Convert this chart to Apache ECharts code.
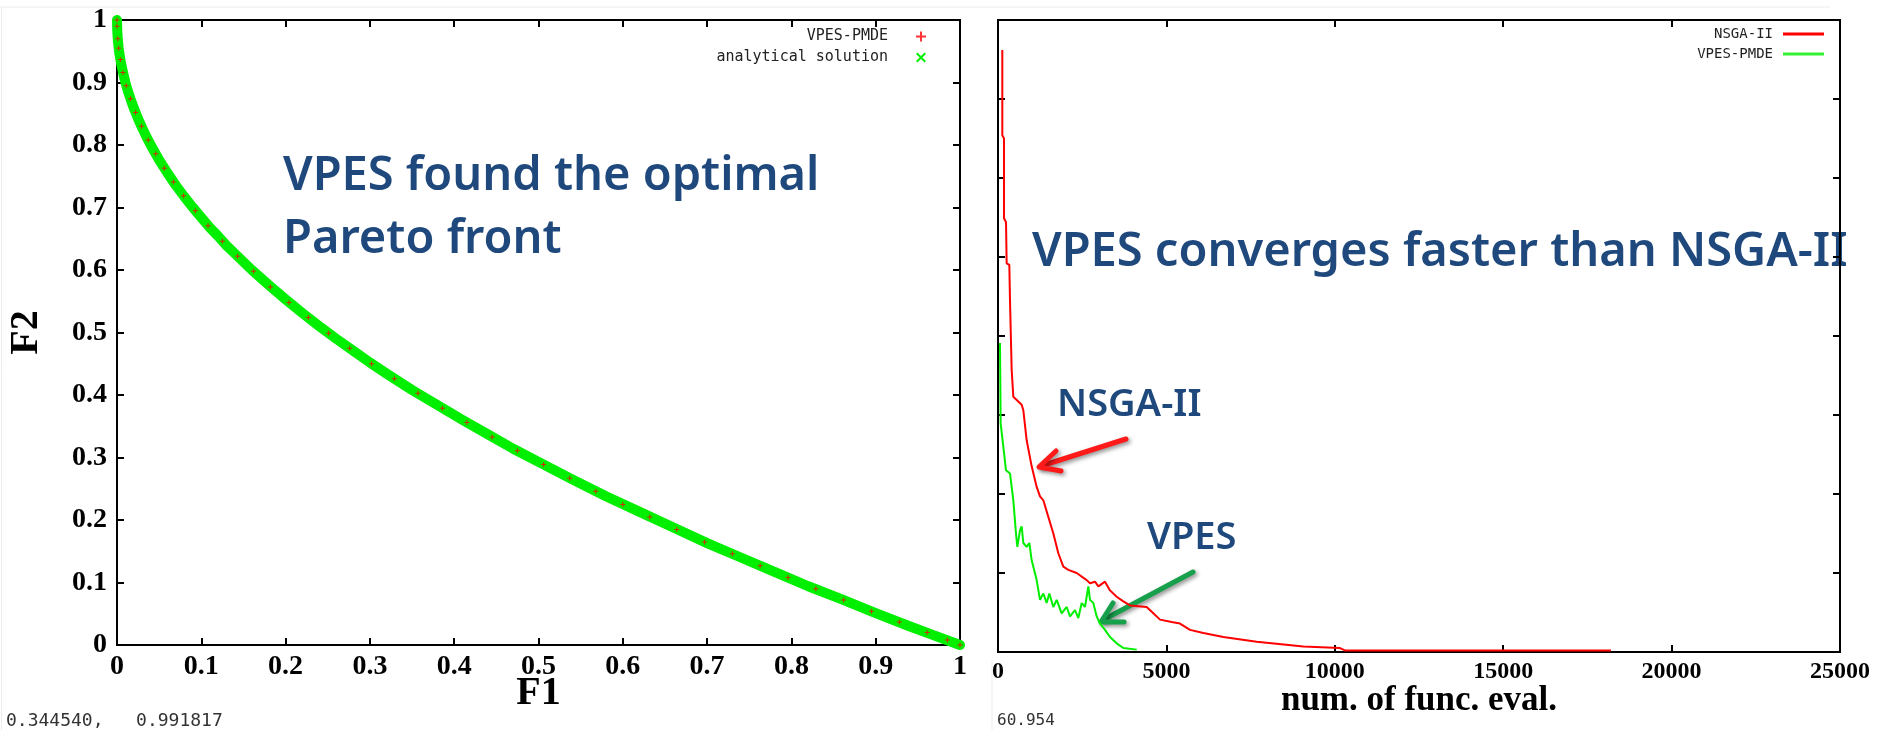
<!DOCTYPE html>
<html>
<head>
<meta charset="utf-8">
<script src="https://cdn.jsdelivr.net/npm/echarts@6/dist/echarts.min.js"></script>
<style>
html,body{margin:0;padding:0;background:#fff;}
#chart{width:1884px;height:730px;}
</style>
</head>
<body>
<div id="chart"></div>
<script>
// ---- Left chart: Pareto front (F1 vs F2) ----
const f1Front = [0, 0.0003, 0.001, 0.002, 0.003, 0.0045, 0.006, 0.008, 0.01, 0.0125, 0.015, 0.0175, 0.02, 0.025, 0.03, 0.035, 0.04, 0.045, 0.05, 0.06, 0.07, 0.08, 0.09, 0.10, 0.11, 0.12, 0.13, 0.14, 0.16, 0.18, 0.20, 0.22, 0.24, 0.26, 0.28, 0.30, 0.32, 0.35, 0.38, 0.41, 0.44, 0.47, 0.50, 0.54, 0.58, 0.62, 0.66, 0.70, 0.74, 0.78, 0.82, 0.86, 0.90, 0.94, 0.97, 1.0];
const f2Front = [1.000, 0.983, 0.968, 0.955, 0.945, 0.933, 0.923, 0.911, 0.900, 0.888, 0.878, 0.868, 0.859, 0.842, 0.827, 0.813, 0.800, 0.788, 0.776, 0.755, 0.735, 0.717, 0.700, 0.684, 0.668, 0.654, 0.639, 0.626, 0.600, 0.576, 0.553, 0.531, 0.510, 0.490, 0.471, 0.452, 0.434, 0.408, 0.384, 0.360, 0.337, 0.314, 0.293, 0.265, 0.238, 0.213, 0.188, 0.163, 0.140, 0.117, 0.094, 0.073, 0.051, 0.030, 0.015, 0.000];

const f1Found = [0.000, 0.000, 0.001, 0.002, 0.004, 0.007, 0.011, 0.016, 0.022, 0.029, 0.037, 0.046, 0.056, 0.067, 0.079, 0.093, 0.108, 0.125, 0.143, 0.162, 0.182, 0.204, 0.227, 0.251, 0.276, 0.302, 0.329, 0.357, 0.386, 0.415, 0.445, 0.475, 0.506, 0.537, 0.568, 0.600, 0.632, 0.664, 0.697, 0.730, 0.763, 0.796, 0.829, 0.862, 0.895, 0.928, 0.961, 0.985, 1.000];
const f2Found = [1.000, 0.990, 0.970, 0.955, 0.937, 0.916, 0.895, 0.874, 0.852, 0.830, 0.808, 0.786, 0.763, 0.741, 0.719, 0.695, 0.671, 0.646, 0.622, 0.598, 0.573, 0.548, 0.524, 0.499, 0.475, 0.450, 0.426, 0.403, 0.379, 0.356, 0.333, 0.311, 0.289, 0.267, 0.246, 0.225, 0.205, 0.185, 0.165, 0.146, 0.127, 0.108, 0.090, 0.072, 0.054, 0.037, 0.020, 0.008, 0.000];

// ---- Right chart: convergence vs number of function evaluations ----
const nsgaEvals  = [128, 128, 178, 178, 238, 257, 336, 356, 406, 455, 703, 752, 851, 1000, 1148, 1247, 1346, 1494, 1643, 1791, 1940, 2088, 2336, 2633, 2732, 2880, 2979, 3177, 3325, 3524, 3722, 3919, 4414, 4612, 4810, 5157, 5404, 5701, 6097, 6690, 7681, 9065, 10154, 10300, 18200];
const nsgaValues = [7.62, 6.54, 6.50, 5.49, 5.44, 4.92, 4.90, 4.46, 3.57, 3.23, 3.13, 3.06, 2.68, 2.35, 2.09, 1.97, 1.92, 1.71, 1.50, 1.25, 1.08, 1.04, 1.00, 0.91, 0.87, 0.89, 0.83, 0.89, 0.78, 0.70, 0.64, 0.59, 0.57, 0.49, 0.41, 0.38, 0.36, 0.28, 0.24, 0.19, 0.13, 0.07, 0.05, 0.02, 0.02];

const vpesEvals  = [59, 79, 158, 238, 356, 455, 534, 574, 653, 703, 752, 851, 930, 1000, 1148, 1247, 1346, 1445, 1524, 1643, 1742, 1890, 2039, 2138, 2286, 2385, 2484, 2583, 2682, 2732, 2830, 2930, 3028, 3177, 3325, 3524, 3722, 4118];
const vpesValues = [3.91, 2.89, 2.60, 2.30, 2.26, 1.92, 1.50, 1.33, 1.54, 1.59, 1.38, 1.33, 1.38, 1.16, 0.91, 0.66, 0.74, 0.62, 0.74, 0.57, 0.66, 0.49, 0.57, 0.45, 0.53, 0.43, 0.62, 0.57, 0.83, 0.66, 0.62, 0.45, 0.36, 0.28, 0.19, 0.11, 0.05, 0.03];

const zip = (a, b) => a.map((v, i) => [v, b[i]]);

const plusPath = 'path://M4,0L6,0L6,4L10,4L10,6L6,6L6,10L4,10L4,6L0,6L0,4L4,4Z';
const crossPath = 'path://M0,1.4L1.4,0L5,3.6L8.6,0L10,1.4L6.4,5L10,8.6L8.6,10L5,6.4L1.4,10L0,8.6L3.6,5Z';

const serif = '"Liberation Serif", "Times New Roman", serif';
const mono = '"DejaVu Sans Mono", monospace';
const sans = '"Noto Sans", "Open Sans", sans-serif';
const frameLine = () => ({show: true, onZero: false, lineStyle: {color: '#000', width: 2}});
const inTick = () => ({show: true, inside: true, length: 7, lineStyle: {color: '#000', width: 2}});
const tickLabel = (size, margin, extra) => Object.assign({show: true, fontFamily: serif, fontWeight: 'bold', color: '#000', fontSize: size, margin: margin}, extra || {});
const titleStyle = size => ({fontFamily: serif, fontWeight: 'bold', color: '#000', fontSize: size});

const chart = echarts.init(document.getElementById('chart'), null, {renderer: 'canvas'});

const blue = '#1F497D';
const arrowShadow = {shadowBlur: 4, shadowColor: 'rgba(0,0,0,0.45)', shadowOffsetX: 2, shadowOffsetY: 2};

chart.setOption({
  animation: false,
  backgroundColor: '#ffffff',
  grid: [
    {left: 117, top: 20, width: 843, height: 625, show: true, borderColor: '#000', borderWidth: 2, backgroundColor: 'transparent'},
    {left: 998, top: 20, width: 842, height: 632, show: true, borderColor: '#000', borderWidth: 2, backgroundColor: 'transparent'}
  ],
  xAxis: [
    {type: 'value', gridIndex: 0, min: 0, max: 1, interval: 0.1, position: 'bottom',
     axisLine: frameLine(), axisTick: inTick(), splitLine: {show: false},
     axisLabel: tickLabel(28, 8),
     name: 'F1', nameLocation: 'middle', nameGap: 29, nameMoveOverlap: false,
     nameTextStyle: titleStyle(40)},
    {type: 'value', gridIndex: 0, min: 0, max: 1, interval: 0.1, position: 'top',
     axisLine: frameLine(), axisTick: inTick(), splitLine: {show: false}, axisLabel: {show: false}},
    {type: 'value', gridIndex: 1, min: 0, max: 25000, interval: 5000, position: 'bottom',
     axisLine: frameLine(), axisTick: inTick(), splitLine: {show: false},
     axisLabel: tickLabel(24, 8, {formatter: v => String(v)}),
     name: 'num. of func. eval.', nameLocation: 'middle', nameGap: 31, nameMoveOverlap: false,
     nameTextStyle: titleStyle(35)},
    {type: 'value', gridIndex: 1, min: 0, max: 25000, interval: 5000, position: 'top',
     axisLine: frameLine(), axisTick: inTick(), splitLine: {show: false}, axisLabel: {show: false}}
  ],
  yAxis: [
    {type: 'value', gridIndex: 0, min: 0, max: 1, interval: 0.1, position: 'left',
     axisLine: frameLine(), axisTick: inTick(), splitLine: {show: false},
     axisLabel: tickLabel(28, 10),
     name: 'F2', nameLocation: 'middle', nameGap: 70, nameRotate: 90, nameMoveOverlap: false,
     nameTextStyle: titleStyle(40)},
    {type: 'value', gridIndex: 0, min: 0, max: 1, interval: 0.1, position: 'right',
     axisLine: frameLine(), axisTick: inTick(), splitLine: {show: false}, axisLabel: {show: false}},
    {type: 'value', gridIndex: 1, min: 0, max: 8, interval: 1, position: 'left',
     axisLine: frameLine(), axisTick: inTick(), splitLine: {show: false}, axisLabel: {show: false}},
    {type: 'value', gridIndex: 1, min: 0, max: 8, interval: 1, position: 'right',
     axisLine: frameLine(), axisTick: inTick(), splitLine: {show: false}, axisLabel: {show: false}}
  ],
  legend: [
    {orient: 'vertical', right: 953, top: 24, align: 'right', selectedMode: false,
     itemWidth: 10, itemHeight: 10, itemGap: 6,
     formatter: n => '{t|' + n + '}',
     textStyle: {rich: {t: {fontFamily: mono, fontSize: 15, lineHeight: 15, color: '#222', padding: [0, 23, 0, 0]}}},
     data: [
       {name: 'VPES-PMDE', icon: plusPath, itemStyle: {color: '#ff0000'}},
       {name: 'analytical solution', icon: crossPath, itemStyle: {color: '#00ee00'}}
     ]},
    {orient: 'vertical', right: 55, top: 22, align: 'right', selectedMode: false,
     itemWidth: 41, itemHeight: 3, itemGap: 6,
     formatter: n => '{t|' + n + '}',
     textStyle: {rich: {t: {fontFamily: mono, fontSize: 14, lineHeight: 14, color: '#222', padding: [0, 5, 0, 0]}}},
     data: [
       {name: 'NSGA-II', icon: 'rect', itemStyle: {color: '#ff0000'}},
       {name: 'VPES-PMDE', icon: 'rect', itemStyle: {color: '#00ee00'}}
     ]}
  ],
  series: [
    {name: 'analytical solution', type: 'line', xAxisIndex: 0, yAxisIndex: 0,
     data: zip(f1Front, f2Front), smooth: false, symbol: 'none', clip: false, z: 2,
     lineStyle: {color: '#00ee00', width: 10, join: 'round', cap: 'round'}, itemStyle: {color: '#00ee00'}},
    {name: 'VPES-PMDE', type: 'scatter', xAxisIndex: 0, yAxisIndex: 0, z: 3,
     data: zip(f1Found, f2Found), symbol: plusPath, symbolSize: 5, clip: false,
     itemStyle: {color: '#ff0000', opacity: 0.8}},
    {name: 'NSGA-II', type: 'line', xAxisIndex: 2, yAxisIndex: 2,
     data: zip(nsgaEvals, nsgaValues), symbol: 'none',
     lineStyle: {color: '#ff0000', width: 2}, itemStyle: {color: '#ff0000'}},
    {name: 'VPES-PMDE', type: 'line', xAxisIndex: 2, yAxisIndex: 2,
     data: zip(vpesEvals, vpesValues), symbol: 'none',
     lineStyle: {color: '#00ee00', width: 2}, itemStyle: {color: '#00ee00'}}
  ],
  graphic: [
    {type: 'line', shape: {x1: 0, y1: 7, x2: 1830, y2: 7}, style: {stroke: '#ececec', lineWidth: 1}, silent: true},
    {type: 'line', shape: {x1: 1.5, y1: 7, x2: 1.5, y2: 730}, style: {stroke: '#ececec', lineWidth: 1}, silent: true},
    {type: 'line', shape: {x1: 992, y1: 660, x2: 992, y2: 730}, style: {stroke: '#ececec', lineWidth: 1}, silent: true},
    {type: 'text', x: 283, y: 177, style: {text: 'VPES found the optimal', fill: blue, font: '600 47px ' + sans, verticalAlign: 'middle'}},
    {type: 'text', x: 283, y: 240, style: {text: 'Pareto front', fill: blue, font: '600 47px ' + sans, verticalAlign: 'middle'}},
    {type: 'text', x: 1032, y: 253, style: {text: 'VPES converges faster than NSGA-II', fill: blue, font: '600 47px ' + sans, verticalAlign: 'middle'}},
    {type: 'text', x: 1057, y: 405, style: {text: 'NSGA-II', fill: blue, font: '600 38px ' + sans, verticalAlign: 'middle'}},
    {type: 'text', x: 1147, y: 538, style: {text: 'VPES', fill: blue, font: '600 38px ' + sans, verticalAlign: 'middle'}},
    {type: 'line', shape: {x1: 1126, y1: 439, x2: 1041, y2: 466},
     style: Object.assign({stroke: '#ff1a1a', lineWidth: 5, lineCap: 'round'}, arrowShadow)},
    {type: 'polyline', shape: {points: [[1056, 451], [1039, 467], [1061, 471]]},
     style: Object.assign({stroke: '#ff1a1a', lineWidth: 5, lineCap: 'round', lineJoin: 'round', fill: null}, arrowShadow)},
    {type: 'line', shape: {x1: 1193, y1: 572, x2: 1103, y2: 620},
     style: Object.assign({stroke: '#17a04c', lineWidth: 5, lineCap: 'round'}, arrowShadow)},
    {type: 'polyline', shape: {points: [[1113, 603], [1101, 622], [1124, 622]]},
     style: Object.assign({stroke: '#17a04c', lineWidth: 5, lineCap: 'round', lineJoin: 'round', fill: null}, arrowShadow)},
    {type: 'text', x: 6, y: 721, style: {text: '0.344540,   0.991817', fill: '#333', font: '18px ' + mono, verticalAlign: 'middle'}},
    {type: 'text', x: 997, y: 721, style: {text: '60.954', fill: '#333', font: '16px ' + mono, verticalAlign: 'middle'}}
  ]
});
</script>
</body>
</html>
